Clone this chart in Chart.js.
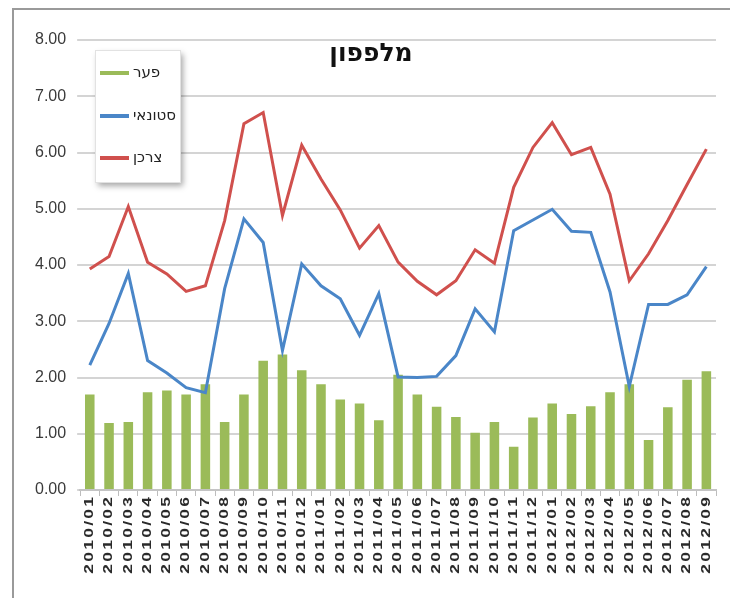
<!DOCTYPE html>
<html><head><meta charset="utf-8">
<script src="https://cdn.jsdelivr.net/npm/chart.js@4.4.1/dist/chart.umd.min.js"></script>
<style>html,body{margin:0;padding:0;background:#fff;}#wrap{position:relative;width:730px;height:598px;}</style>
</head><body><div id="wrap"><canvas id="c" width="730" height="598"></canvas></div>
<script>
const categories = ['2010/01','2010/02','2010/03','2010/04','2010/05','2010/06','2010/07','2010/08','2010/09','2010/10','2010/11','2010/12',
  '2011/01','2011/02','2011/03','2011/04','2011/05','2011/06','2011/07','2011/08','2011/09','2011/10','2011/11','2011/12',
  '2012/01','2012/02','2012/03','2012/04','2012/05','2012/06','2012/07','2012/08','2012/09'];
const gapValues = [1.70,1.19,1.21,1.74,1.77,1.70,1.88,1.21,1.70,2.30,2.41,2.13,
  1.88,1.61,1.54,1.24,2.05,1.70,1.48,1.30,1.02,1.21,0.77,1.29,
  1.54,1.35,1.49,1.74,1.88,0.89,1.47,1.96,2.11];
const wholesaleValues = [2.22,2.96,3.85,2.30,2.08,1.82,1.73,3.58,4.82,4.40,2.48,4.02,
  3.63,3.40,2.75,3.49,2.01,2.00,2.02,2.39,3.22,2.81,4.61,4.80,
  4.99,4.60,4.58,3.52,1.84,3.30,3.30,3.47,3.97];
const consumerValues = [3.93,4.15,5.04,4.05,3.84,3.53,3.63,4.79,6.51,6.71,4.88,6.13,
  5.53,4.98,4.30,4.70,4.05,3.71,3.47,3.72,4.27,4.03,5.38,6.09,
  6.53,5.96,6.09,5.26,3.72,4.20,4.79,5.43,6.06];
const yTickValues = [0,1,2,3,4,5,6,7,8];
const seriesNames = ['פער','סטונאי','צרכן'];
const chartTitle = 'מלפפון';

const colGreen = '#9bbb59', colBlue = '#4a86c8', colRed = '#d0504d';

const decor = {
  id: 'decor',
  beforeDraw(chart){
    const ctx = chart.ctx;
    ctx.save();
    ctx.fillStyle = '#fff'; ctx.fillRect(0,0,chart.width,chart.height);
    ctx.strokeStyle = '#9a9a9a'; ctx.lineWidth = 2;
    ctx.beginPath(); ctx.moveTo(13, chart.height); ctx.lineTo(13, 9); ctx.lineTo(chart.width, 9); ctx.stroke();
    ctx.restore();
  },
  afterDraw(chart){
    const ctx = chart.ctx;
    ctx.save();
    // x category labels, rotated and stretched like the reference
    const xs = chart.scales.x;
    ctx.font = 'bold 12px "Liberation Sans"';
    ctx.fillStyle = '#2a2a2a';
    ctx.textBaseline = 'middle'; ctx.textAlign = 'left';
    const spacing = 1.6, stretch = 1.45;
    chart.data.labels.forEach((lab, i) => {
      const x = xs.getPixelForTick(i);
      const chars = Array.from(String(lab));
      const widths = chars.map(c => ctx.measureText(c).width);
      const total = widths.reduce((a, b) => a + b, 0) + spacing * (chars.length - 1);
      ctx.save();
      ctx.translate(x, xs.top + 7);
      ctx.rotate(-Math.PI / 2);
      ctx.scale(stretch, 1);
      let pos = -total;
      chars.forEach((c, k) => { ctx.fillText(c, pos, 0); pos += widths[k] + spacing; });
      ctx.restore();
    });
    // title
    ctx.fillStyle = '#111';
    ctx.font = 'bold 25px "DejaVu Sans"';
    ctx.textAlign = 'center'; ctx.textBaseline = 'middle';
    ctx.direction = 'rtl';
    ctx.fillText(chartTitle, 371, 54);
    // legend box
    ctx.direction = 'ltr';
    ctx.shadowColor = 'rgba(0,0,0,0.35)'; ctx.shadowBlur = 6; ctx.shadowOffsetX = 3; ctx.shadowOffsetY = 4;
    ctx.fillStyle = '#fff';
    ctx.fillRect(95, 50, 85, 132);
    ctx.shadowColor = 'transparent';
    ctx.strokeStyle = '#e2e2e2'; ctx.lineWidth = 1; ctx.strokeRect(95.5, 50.5, 85, 132);
    const items = chart.data.datasets.map(d => ({label: d.label, color: d.borderColor || d.backgroundColor}));
    const ys = [73, 116, 158];
    ctx.font = '15px "DejaVu Sans"';
    ctx.textBaseline = 'middle'; ctx.textAlign = 'left';
    items.forEach((it, i) => {
      ctx.strokeStyle = it.color; ctx.lineWidth = 4; ctx.lineCap = 'butt';
      ctx.beginPath(); ctx.moveTo(100, ys[i]); ctx.lineTo(129, ys[i]); ctx.stroke();
      ctx.fillStyle = '#222';
      ctx.fillText(it.label, 133, ys[i]);
    });
    ctx.restore();
  }
};

Chart.defaults.font.family = '"Liberation Sans", Arial, sans-serif';
new Chart(document.getElementById('c'), {
  data: {
    labels: categories,
    datasets: [
      {type:'bar', label: seriesNames[0], data: gapValues, backgroundColor: colGreen, borderColor: colGreen, barPercentage: 0.55, categoryPercentage: 0.9, order: 3},
      {type:'line', label: seriesNames[1], data: wholesaleValues, borderColor: colBlue, backgroundColor: colBlue, borderWidth: 3, pointRadius: 0, tension: 0, order: 2},
      {type:'line', label: seriesNames[2], data: consumerValues, borderColor: colRed, backgroundColor: colRed, borderWidth: 3, pointRadius: 0, tension: 0, order: 1}
    ]
  },
  options: {
    responsive: false, animation: false,
    layout: {padding: {left: 24, top: 40, right: 14, bottom: 28}},
    plugins: {legend: {display: false}, title: {display: false}, tooltip: {enabled: false}},
    scales: {
      x: {
        afterFit(scale){ scale.height = 80; },
        grid: {display: true, drawOnChartArea: false, drawTicks: true, tickLength: 6, color: '#bdbdbd', lineWidth: 1},
        border: {display: true, color: '#c4c4c4', width: 2},
        ticks: {display: false, autoSkip: false}
      },
      y: {
        min: 0, max: 8,
        afterBuildTicks(scale){ scale.ticks = yTickValues.map(v => ({value: v})); },
        grid: {color: '#d4d4d4', lineWidth: 2, tickLength: 3, drawTicks: true},
        border: {display: false},
        ticks: {padding: 11, color: '#3a3a3a', font: {size: 16}, callback: v => Number(v).toFixed(2)}
      }
    }
  },
  plugins: [decor]
});
</script></body></html>
